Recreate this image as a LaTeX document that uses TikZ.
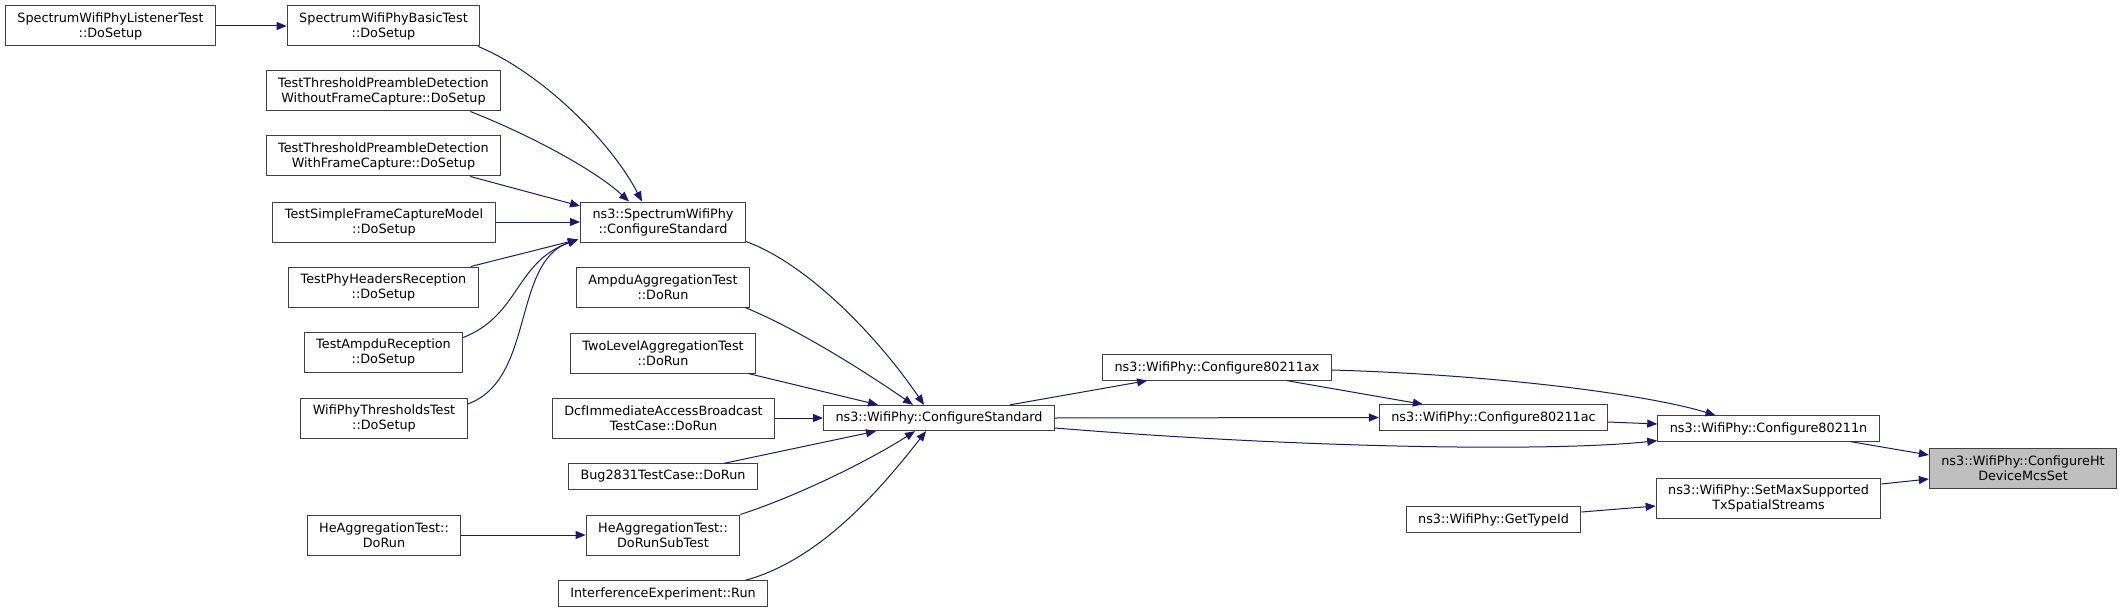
\documentclass[tikz,border=0pt]{standalone}
\usepackage{fontspec}
\setmainfont{DejaVu Sans}
\usepackage{tikz}
\usetikzlibrary{arrows.meta}
\definecolor{edgeblue}{HTML}{191970}
\definecolor{boxline}{HTML}{404040}
\definecolor{focus}{HTML}{BFBFBF}

\begin{document}
\begin{tikzpicture}[
  x=0.75pt, y=-0.75pt,
  fn/.style={rectangle, draw=boxline, line width=0.75pt, fill=white, align=center,
             inner xsep=9pt, inner ysep=2pt, minimum height=30pt,
             font=\fontsize{9.6}{11.25}\selectfont},
  one/.style={minimum height=19pt},
  call/.style={draw=edgeblue, line width=0.75pt, -{Triangle[length=7.5pt, width=6pt]}},
]
\useasboundingbox (0,0) rectangle (2123,613);

\node[fn] (lstn) at (110.5, 26) {SpectrumWifiPhyListenerTest\\::DoSetup};
\node[fn] (basic) at (383.5, 26) {SpectrumWifiPhyBasicTest\\::DoSetup};
\node[fn] (wofc) at (383.5, 91) {TestThresholdPreambleDetection\\WithoutFrameCapture::DoSetup};
\node[fn] (wfc) at (383.5, 156) {TestThresholdPreambleDetection\\WithFrameCapture::DoSetup};
\node[fn] (sfcm) at (384, 222) {TestSimpleFrameCaptureModel\\::DoSetup};
\node[fn] (phr) at (383.5, 287) {TestPhyHeadersReception\\::DoSetup};
\node[fn] (ampr) at (383.5, 352.5) {TestAmpduReception\\::DoSetup};
\node[fn] (thr) at (384, 418) {WifiPhyThresholdsTest\\::DoSetup};
\node[fn] (hedr) at (384, 535) {HeAggregationTest::\\DoRun};

\node[fn] (sprcs) at (663, 222) {ns3::SpectrumWifiPhy\\::ConfigureStandard};
\node[fn] (aat) at (663, 287) {AmpduAggregationTest\\::DoRun};
\node[fn] (tla) at (663, 353) {TwoLevelAggregationTest\\::DoRun};
\node[fn] (dcf) at (663.5, 418) {DcfImmediateAccessBroadcast\\TestCase::DoRun};
\node[fn, one] (bug) at (663, 476.5) {Bug2831TestCase::DoRun};
\node[fn] (hesub) at (663, 535) {HeAggregationTest::\\DoRunSubTest};
\node[fn, one] (ie) at (663, 593.5) {InterferenceExperiment::Run};

\node[fn, one] (wcs) at (939, 418) {ns3::WifiPhy::ConfigureStandard};
\node[fn, one] (ax) at (1217, 367.5) {ns3::WifiPhy::Configure80211ax};
\node[fn, one] (ac) at (1493.5, 417.5) {ns3::WifiPhy::Configure80211ac};
\node[fn, one] (gti) at (1493.5, 519.5) {ns3::WifiPhy::GetTypeId};
\node[fn, one] (n) at (1768.5, 428.5) {ns3::WifiPhy::Configure80211n};
\node[fn] (smx) at (1768.5, 498) {ns3::WifiPhy::SetMaxSupported\\TxSpatialStreams};
\node[fn, fill=focus] (hts) at (2023, 468) {ns3::WifiPhy::ConfigureHt\\DeviceMcsSet};

% callers of the spectrum phy
\draw[call] (lstn.east) -- (basic.west);
\draw[call] ([shift={(-2,0)}]basic.south east) .. controls (540,72) and (610,140) .. ([shift={(-21,0)}]sprcs.north);
\draw[call] ([shift={(-31,0)}]wofc.south east) .. controls (530,135) and (595,170) .. ([shift={(-34,0)}]sprcs.north);
\draw[call] ([shift={(-31,0)}]wfc.south east) -- ([shift={(0,-16)}]sprcs.west);
\draw[call] (sfcm.east) -- (sprcs.west);
\draw[call] ([shift={(-8,0)}]phr.north east) -- ([shift={(-2,-3)}]sprcs.south west);
\draw[call] ([shift={(0,-15)}]ampr.east) .. controls (520,315) and (515,262) .. ([shift={(-2,-3)}]sprcs.south west);
\draw[call] ([shift={(0,-14)}]thr.east) .. controls (535,380) and (512,262) .. ([shift={(-2,-3)}]sprcs.south west);

% callers of ConfigureStandard
\draw[call] ([shift={(0,-1)}]sprcs.south east) .. controls (810,265) and (880,340) .. ([shift={(-15,0)}]wcs.north);
\draw[call] ([shift={(-5,0)}]aat.south east) .. controls (800,330) and (870,375) .. ([shift={(-26,0)}]wcs.north);
\draw[call] ([shift={(-8,0)}]tla.south east) -- ([shift={(55,0)}]wcs.north west);
\draw[call] (dcf.east) -- (wcs.west);
\draw[call] ([shift={(-34,0)}]bug.north east) -- ([shift={(53,0)}]wcs.south west);
\draw[call] (hesub.north east) .. controls (800,495) and (870,460) .. ([shift={(-24,0)}]wcs.south);
\draw[call] ([shift={(-23,0)}]ie.north east) .. controls (820,560) and (880,490) .. ([shift={(-13,0)}]wcs.south);
\draw[call] (hedr.east) -- (hesub.west);

% standard specific configuration
\draw[call] ([shift={(-45,0)}]wcs.north east) -- ([shift={(45,0)}]ax.south west);
\draw[call] (wcs.east) -- (ac.west);
\draw[call] ([shift={(0,10)}]wcs.east) .. controls (1300,448) and (1550,452) .. ([shift={(0,-1)}]n.south west);
\draw[call] ([shift={(-45,0)}]ax.south east) -- ([shift={(44,0)}]ac.north west);
\draw[call] ([shift={(0,2.5)}]ax.east) .. controls (1500,375) and (1650,395) .. ([shift={(-53,0)}]n.north);
\draw[call] ([shift={(0,4.5)}]ac.east) -- ([shift={(0,-4.5)}]n.west);
\draw[call] ([shift={(-29,0)}]n.south east) -- ([shift={(0,-13)}]hts.west);
\draw[call] ([shift={(0,-14)}]smx.east) -- ([shift={(0,11)}]hts.west);
\draw[call] ([shift={(0,-7.5)}]gti.east) -- ([shift={(0,8)}]smx.west);

\end{tikzpicture}
\end{document}
